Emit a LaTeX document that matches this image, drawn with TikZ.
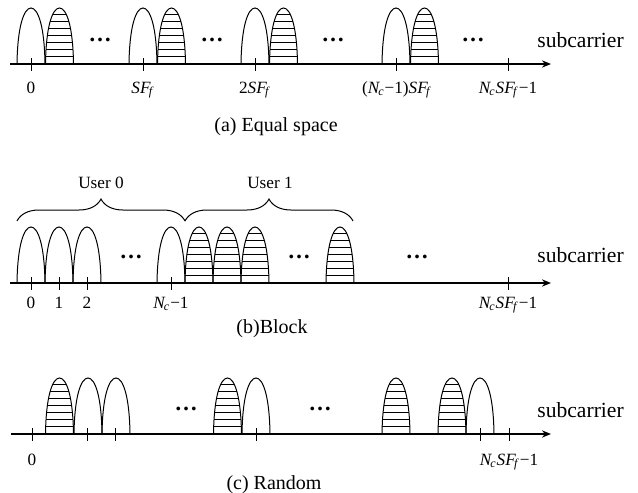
\documentclass[tikz,border=0pt]{standalone}
\usepackage{fontspec}
\setmainfont{Liberation Serif}
\usetikzlibrary{arrows.meta,decorations.pathreplacing}
\newcommand{\archpath}{(-14,0) .. controls (-13.5,-38) and (-7,-56) .. (0,-56) .. controls (7,-56) and (13.5,-38) .. (14,0)}
\newcommand{\ivar}[2]{\textit{#1}\textsubscript{\kern-0.15em\textit{#2}}}

\begin{document}
\begin{tikzpicture}[x=0.5pt, y=-0.5pt,
  axis/.style={line width=0.9pt, -{Stealth[length=4.5pt,width=3.6pt]}},
  tickmark/.style={line width=0.45pt},
  lbl/.style={anchor=base, inner sep=0pt, font=\fontsize{8.6}{10}\selectfont},
  captxt/.style={anchor=base, inner sep=0pt, font=\fontsize{10}{12}\selectfont},
  subtxt/.style={anchor=base west, inner sep=0pt, font=\fontsize{10.8}{13}\selectfont},
  dotsnode/.style={inner sep=0pt, font=\fontsize{11.5}{13}\selectfont\bfseries},
  usrbrace/.style={line width=0.5pt, decorate, decoration={brace, amplitude=11pt}},
  arch/.pic={\draw[line width=0.5pt] \archpath;},
  harch/.pic={
    \begin{scope}
      \clip \archpath -- cycle;
      \foreach \k in {1,...,7} \draw[line width=0.45pt] (-15,-7.1*\k) -- (15,-7.1*\k);
    \end{scope}
    \draw[line width=0.5pt] \archpath;}]
  \useasboundingbox (0,0) rectangle (638,493);

  % (a) equal space: one white + one hatched lobe per group
  \foreach \c in {31,143,255,396} {
    \pic at (\c,64) {arch};
    \pic at (\c+28.5,64) {harch};
  }
  \coordinate (a-start) at (10,64);
  \coordinate (a-end) at (551,64);
  \draw[axis] (a-start) -- (a-end);
  \foreach \t in {31,143,255,396,508} \draw[tickmark] (\t,58) -- (\t,71);
  \foreach \x [count=\i] in {100,212,333,473} \node[dotsnode] (a-dots\i) at (\x,40) {…};
  \node[subtxt] (a-sub) at (537,47) {subcarrier};
  \node[lbl] (a-l0) at (31,93) {0};
  \node[lbl] (a-l1) at (143,93) {\ivar{SF}{f}};
  \node[lbl] (a-l2) at (255,93) {2\ivar{SF}{f}};
  \node[lbl] (a-l3) at (397,93) {(\ivar{N}{c}−1)\ivar{SF}{f}};
  \node[lbl] (a-l4) at (508,93) {\ivar{N}{c}\ivar{SF}{f}−1};
  \node[captxt] (a-cap) at (276,131) {(a) Equal space};

  % (b) block: user 0 white, user 1 hatched
  \foreach \c in {31,59,87,171} \pic at (\c,283) {arch};
  \foreach \c in {199,227,255,340} \pic at (\c,283) {harch};
  \coordinate (b-start) at (10,283);
  \coordinate (b-end) at (551,283);
  \draw[axis] (b-start) -- (b-end);
  \foreach \t in {31,59,87,171,508} \draw[tickmark] (\t,277) -- (\t,290);
  \foreach \x [count=\i] in {131,299,417} \node[dotsnode] (b-dots\i) at (\x,257) {…};
  \node[subtxt] (b-sub) at (537,262) {subcarrier};
  \node[lbl] (b-l0) at (31,308) {0};
  \node[lbl] (b-l1) at (59,308) {1};
  \node[lbl] (b-l2) at (87,308) {2};
  \node[lbl] (b-l3) at (171,308) {\ivar{N}{c}−1};
  \node[lbl] (b-l4) at (508,308) {\ivar{N}{c}\ivar{SF}{f}−1};
  \node[captxt] (b-cap) at (272,333) {(b)Block};

  % user braces
  \coordinate (u0-l) at (17,221);
  \coordinate (u0-r) at (185,221);
  \coordinate (u1-r) at (353,221);
  \draw[usrbrace] (u0-l) -- (u0-r);
  \draw[usrbrace] (u0-r) -- (u1-r);
  \node[lbl] (user0) at (101,188) {User 0};
  \node[lbl] (user1) at (270,188) {User 1};

  % (c) random
  \foreach \c in {59.5,227.5,396,452} \pic at (\c,434) {harch};
  \foreach \c in {88,116,256,480} \pic at (\c,434) {arch};
  \coordinate (c-start) at (11,434);
  \coordinate (c-end) at (551,434);
  \draw[axis] (c-start) -- (c-end);
  \foreach \t in {32,87,115,256,480,509} \draw[tickmark] (\t,428) -- (\t,441);
  \foreach \x [count=\i] in {186,320} \node[dotsnode] (c-dots\i) at (\x,409) {…};
  \node[subtxt] (c-sub) at (537,417) {subcarrier};
  \node[lbl] (c-l0) at (32,465) {0};
  \node[lbl] (c-l1) at (509,465) {\ivar{N}{c}\ivar{SF}{f}−1};
  \node[captxt] (c-cap) at (274,489) {(c) Random};
\end{tikzpicture}
\end{document}
